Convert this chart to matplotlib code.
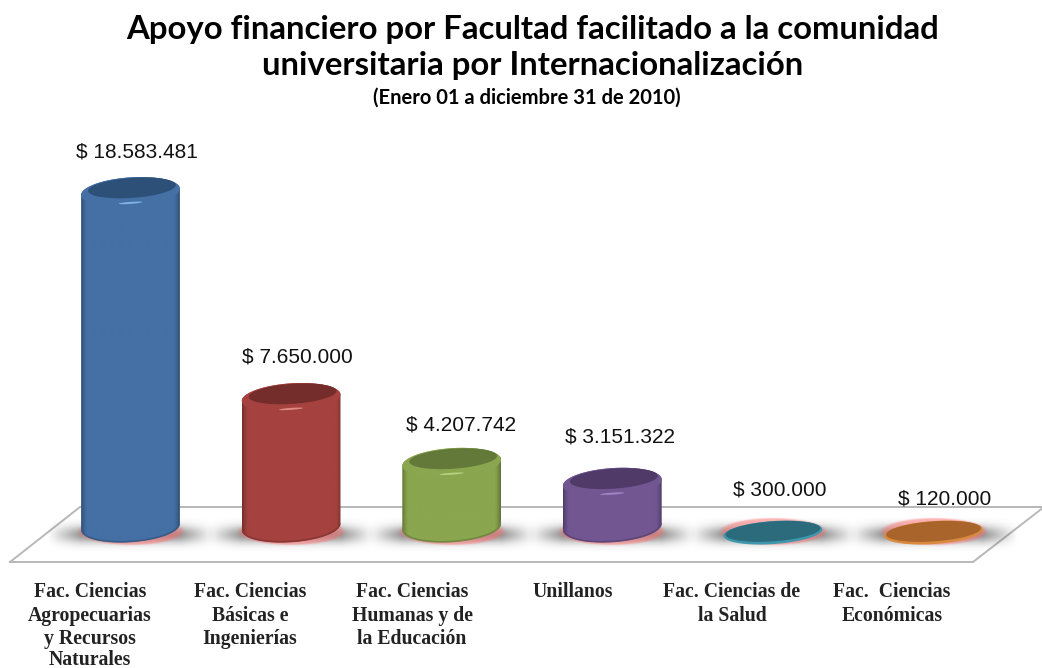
import numpy as np
import matplotlib
matplotlib.use("Agg")
import matplotlib.pyplot as plt
from matplotlib.patches import Polygon
from matplotlib.colors import to_rgb

W, H = 1042, 668

categories = [
    "Fac. Ciencias\nAgropecuarias\ny Recursos\nNaturales",
    "Fac. Ciencias\nBásicas e\nIngenierías",
    "Fac. Ciencias\nHumanas y de\nla Educación",
    "Unillanos",
    "Fac. Ciencias de\nla Salud",
    "Fac.  Ciencias\nEconómicas",
]
values = [18583481, 7650000, 4207742, 3151322, 300000, 120000]
value_labels = ["$ 18.583.481", "$ 7.650.000", "$ 4.207.742", "$ 3.151.322", "$ 300.000", "$ 120.000"]

colors = ["#4470a5", "#a5423f", "#8aa64e", "#725692", "#3f97ae", "#d98a3e"]
top_colors = ["#2d5078", "#752d2b", "#62793a", "#4f3a68", "#2b6b7c", "#a8642b"]
shine_colors = ["#7fb2e6", "#e08a86", "#b5cf80", "#a085c4", "#3f97ae", "#d98a3e"]

# label nudges from the top of each bar, pixels
label_dx = [6, 6, 9, 8, 7, 11]
label_dy = [40, 41, 38, 46, 43, 34]
cat_x = [90, 250, 412, 573, 732, 892]
cat_rows = [592, 616, 639, 660]

# scale: 160.6 px per category, 18.84 px per million
PX_X, PX_Y = 160.6, 18.84
X0, Y0 = 130.5, 542
RX, RY, TILT = 49.5, 14.5, np.radians(4)
BASE = 0.8    # centre of the base ellipse, millions
FLOOR = 0.5   # small bars never drop under the floor plane

fig = plt.figure(figsize=(W / 100, H / 100), dpi=100, facecolor="white")
ax = fig.add_axes([0, 0, 1, 1])
ax.axis("off")


def to_x(px):
    return (px - X0) / PX_X


def to_y(py):
    return (Y0 - py) / PX_Y


def ellipse(i, v, rx, ry, dx=0, dy=0, start=0, stop=2 * np.pi):
    t = np.linspace(start, stop, 80)
    ex, ey = rx * np.cos(t), ry * np.sin(t)
    px = ex * np.cos(TILT) - ey * np.sin(TILT) + dx
    py = ex * np.sin(TILT) + ey * np.cos(TILT) + dy
    return i + px / PX_X, v + py / PX_Y


def draw_floor():
    xs = [10, 80, 1044, 973, 10]
    ys = [562, 507, 507, 562, 562]
    ax.plot(to_x(np.array(xs)), to_y(np.array(ys)), color="#b8b8b8", lw=1.4, zorder=1)


def draw_shadow(i):
    xx = np.linspace(-84, 84, 168)
    yy = np.linspace(-16, 16, 40)
    gx, gy = np.meshgrid(xx, yy)
    fade = np.clip((84 - np.abs(gx)) / 34, 0, 1)
    a = np.exp(-(gy / 8.5) ** 2) * fade * 0.62
    img = np.zeros(gx.shape + (4,))
    img[..., :3] = 0.35
    img[..., 3] = a
    cy = 535
    ax.imshow(img, extent=[i - 84 / PX_X, i + 84 / PX_X, to_y(cy + 16), to_y(cy - 16)],
              aspect="auto", zorder=2, interpolation="bilinear")

    # pink glow round the foot
    xx = np.linspace(-62, 62, 124)
    yy = np.linspace(-20, 20, 60)
    gx, gy = np.meshgrid(xx, yy)
    d = np.sqrt((gx / 55) ** 2 + (gy / 14) ** 2)
    img = np.zeros(gx.shape + (4,))
    img[..., :3] = to_rgb("#ff6a6a")
    img[..., 3] = np.clip((1.0 - d) / 0.12, 0, 1) * 0.5
    ax.imshow(img, extent=[i - 62 / PX_X, i + 62 / PX_X, to_y(532 + 20), to_y(532 - 20)],
              aspect="auto", zorder=2, interpolation="bilinear")


def draw_cylinder(i, v, color, top, shine):
    c = np.array(to_rgb(color))
    xl, yl = ellipse(i, v, RX, RY, start=0, stop=np.pi)
    xb, yb = ellipse(i, BASE, RX, RY + 0.5, start=np.pi, stop=2 * np.pi)
    body = Polygon(np.column_stack([np.r_[xl, xb], np.r_[yl, yb]]), closed=True,
                   facecolor="none", edgecolor="none", zorder=3)
    ax.add_patch(body)

    # dark at both sides, flat in the middle
    u = np.linspace(-1, 1, 110)
    shade = 1 - 0.3 * np.clip((np.abs(u) - 0.88) / 0.12, 0, 1) ** 1.5
    strip = (c[None, None, :] * shade[None, :, None]).clip(0, 1)
    im = ax.imshow(strip, extent=[i - RX / PX_X, i + RX / PX_X, BASE - 20 / PX_Y, v + 20 / PX_Y],
                   aspect="auto", zorder=3, interpolation="bilinear")
    im.set_clip_path(body)

    # darker lip under the foot
    xf, yf = ellipse(i, BASE, RX - 1, RY, start=np.pi, stop=2 * np.pi)
    ax.plot(xf, yf, color=c * 0.82, lw=1.2, zorder=4)

    # cap
    xc, yc = ellipse(i, v, RX, RY)
    ax.fill(xc, yc, color=color, zorder=4, lw=0)
    xc, yc = ellipse(i, v, 44, 10, dx=1.5, dy=4)
    ax.fill(xc, yc, color=top, zorder=5, lw=0)
    xs, ys = ellipse(i, v, 12, 1.0, dx=0, dy=-11)
    ax.fill(xs, ys, color=shine, zorder=5, lw=0)


def draw_disk(i, v, color, top):
    xc, yc = ellipse(i, v, RX, 11.5)
    ax.fill(xc, yc, color=color, zorder=4, lw=0)
    xc, yc = ellipse(i, v, 47.5, 10, dy=1.2)
    ax.fill(xc, yc, color=top, zorder=5, lw=0)


draw_floor()
for i, val in enumerate(values):
    draw_shadow(i)

millions = [v / 1e6 for v in values]
for i, m in enumerate(millions):
    level = max(m, FLOOR)
    if m > BASE:
        draw_cylinder(i, level, colors[i], top_colors[i], shine_colors[i])
    else:
        draw_disk(i, level, colors[i], top_colors[i])
    ax.annotate(value_labels[i], xy=(i, level), xytext=(label_dx[i], label_dy[i]),
                textcoords="offset pixels", ha="center", va="center",
                family="Liberation Sans", fontsize=15, color="#111111", zorder=6)

for x, name in zip(cat_x, categories):
    # rows are not evenly spaced in the original, so one text per line
    for row, line in zip(cat_rows, name.split("\n")):
        fig.text(x / W, 1 - row / H, line, ha="center", va="center",
                 family="Liberation Serif", weight="bold", fontsize=14.2, color="#222222")

fig.text(533 / W, 1 - 30 / H, "Apoyo financiero por Facultad facilitado a la comunidad",
         ha="center", va="center", family="Lato", weight="bold", fontsize=23.7, color="black")
fig.text(533 / W, 1 - 66 / H, "universitaria por Internacionalización",
         ha="center", va="center", family="Lato", weight="bold", fontsize=23.7, color="black")
fig.text(527 / W, 1 - 98 / H, "(Enero 01 a diciembre 31 de 2010)",
         ha="center", va="center", family="Lato", weight="bold", fontsize=14.5, color="black")

ax.set_xlim(to_x(0), to_x(W))
ax.set_ylim(to_y(H), to_y(0))
fig.savefig("out.png", dpi=100)
